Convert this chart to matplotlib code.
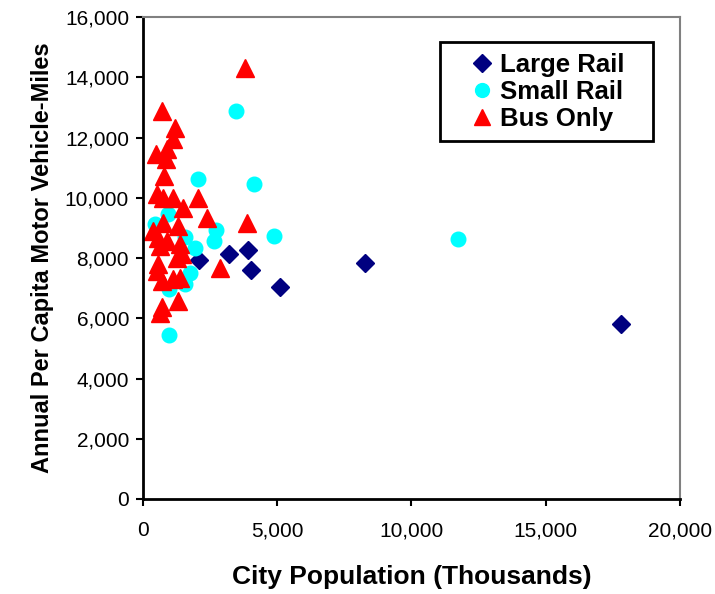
import matplotlib.pyplot as plt
from matplotlib.patches import Rectangle
from matplotlib.ticker import FuncFormatter

plt.rcParams['font.family'] = ['Liberation Sans', 'DejaVu Sans']

# city population (thousands) and annual per capita VMT
large_rail_x = [17800, 8280, 5110, 3210, 3920, 4030, 2090]
large_rail_y = [5800, 7850, 7050, 8140, 8280, 7610, 7940]

small_rail_x = [3470, 4140, 11750, 4890, 2050, 2720, 2650, 1940, 1750, 1570,
                1570, 450, 930, 970, 970]
small_rail_y = [12880, 10460, 8640, 8740, 10630, 8940, 8570, 8340, 7510, 7150,
                8700, 9140, 9470, 6980, 5460]

bus_x = [3800, 710, 1190, 1120, 485, 895, 860, 780, 520, 750, 1120, 2050,
         1490, 2390, 3880, 750, 1310, 370, 560, 895, 1380, 630, 1450, 1270,
         2870, 560, 520, 710, 1120, 1380, 1310, 710, 630]
bus_y = [14300, 12880, 12310, 11950, 11450, 11620, 11290, 10720, 10130, 10000,
         10000, 10000, 9670, 9330, 9170, 9170, 9070, 8900, 8670, 8570, 8470,
         8400, 8140, 8010, 7680, 7810, 7580, 7250, 7320, 7350, 6590, 6360, 6190]

fig = plt.figure(figsize=(7.15, 5.94), dpi=100)
ax = fig.add_axes([0.2, 0.16, 0.751, 0.811])

ax.plot(large_rail_x, large_rail_y, 'D', color='#000080', markersize=9.5,
        linestyle='none', label='Large Rail')
ax.plot(small_rail_x, small_rail_y, 'o', color='#00FFFF', markersize=10.5,
        linestyle='none', label='Small Rail')
ax.plot(bus_x, bus_y, '^', color='#FF0000', markersize=12.5,
        linestyle='none', label='Bus Only')

ax.set_xlim(0, 20000)
ax.set_ylim(0, 16000)
ax.set_xticks(range(0, 20001, 5000))
ax.set_yticks(range(0, 16001, 2000))
fmt = FuncFormatter(lambda v, p: f'{int(v):,}')
ax.xaxis.set_major_formatter(fmt)
ax.yaxis.set_major_formatter(fmt)
ax.tick_params(labelsize=15, length=5, width=1.5, direction='out', pad=5)
ax.tick_params(axis='x', pad=11)

for side in ['left', 'bottom']:
    ax.spines[side].set_linewidth(2)
for side in ['top', 'right']:
    ax.spines[side].set_color('#808080')
    ax.spines[side].set_linewidth(1.5)

ax.set_xlabel('City Population (Thousands)', fontsize=19, fontweight='bold',
              labelpad=18)
ax.set_ylabel('Annual Per Capita Motor Vehicle-Miles', fontsize=17,
              fontweight='bold', labelpad=8)

# legend box drawn separately so it can be wider than the entries
ax.add_patch(Rectangle((0.553, 0.743), 0.397, 0.205, transform=ax.transAxes,
                       facecolor='white', edgecolor='black', linewidth=2,
                       zorder=4))
leg = ax.legend(loc='upper left', bbox_to_anchor=(0.588, 0.944),
                prop={'weight': 'bold', 'size': 18.5}, frameon=False,
                handletextpad=0.15, handlelength=1.1, borderpad=0.35,
                labelspacing=0.12, markerscale=0.95, borderaxespad=0)
leg.set_zorder(5)

fig.savefig('out.png', dpi=100)
